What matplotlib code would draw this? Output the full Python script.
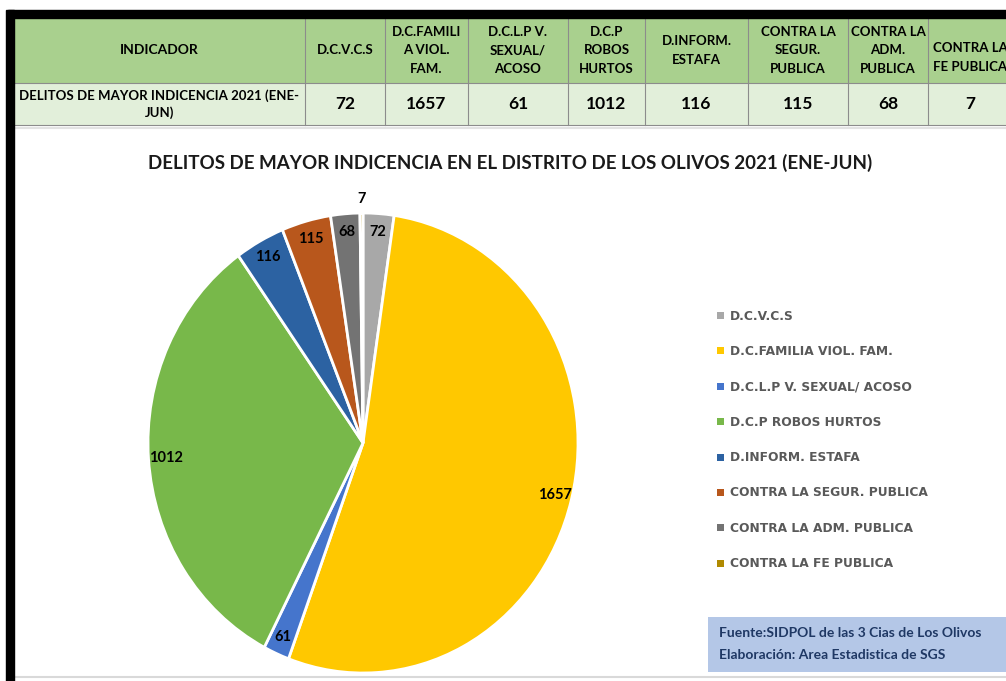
import matplotlib
matplotlib.use("Agg")
import matplotlib.pyplot as plt
from matplotlib.patches import Rectangle
import numpy as np

plt.rcParams['font.family'] = ['Lato', 'DejaVu Sans']

# data
categorias = ["D.C.V.C.S", "D.C.FAMILIA VIOL. FAM.", "D.C.L.P V. SEXUAL/ ACOSO",
              "D.C.P ROBOS HURTOS", "D.INFORM. ESTAFA", "CONTRA LA SEGUR. PUBLICA",
              "CONTRA LA ADM. PUBLICA", "CONTRA LA FE PUBLICA"]
valores = [72, 1657, 61, 1012, 116, 115, 68, 7]
encabezados = ["D.C.V.C.S", "D.C.FAMILI\nA VIOL.\nFAM.", "D.C.L.P V.\nSEXUAL/\nACOSO",
               "D.C.P\nROBOS\nHURTOS", "D.INFORM.\nESTAFA", "CONTRA LA\nSEGUR.\nPUBLICA",
               "CONTRA LA\nADM.\nPUBLICA", "CONTRA LA\nFE PUBLICA"]
fila_titulo = "DELITOS DE MAYOR INDICENCIA 2021 (ENE-\nJUN)"
colores = ["#A8A8A8", "#FFC800", "#4575CC", "#78B84A", "#2C62A2", "#B8571C", "#737373", "#B08A00"]
titulo = "DELITOS DE MAYOR INDICENCIA EN EL DISTRITO DE LOS OLIVOS 2021 (ENE-JUN)"

W, H = 1006, 681
fig = plt.figure(figsize=(W / 100, H / 100), dpi=100)
fig.patch.set_facecolor("white")

# overlay in pixel coordinates
bg = fig.add_axes([0, 0, 1, 1])
bg.set_xlim(0, W)
bg.set_ylim(H, 0)
bg.axis("off")

# black frame (screenshot border)
bg.add_patch(Rectangle((8, 10), W, 8, color="black", zorder=5))
bg.add_patch(Rectangle((6, 10), 8, H, color="black", zorder=5))
bg.plot([14, W], [677, 677], color="#D9D9D9", lw=1.5)
bg.plot([14, W], [128, 128], color="#E3E3E3", lw=1.5)

# table
bordes = [14, 305, 385, 468, 568, 645, 748, 848, 928, 1030]
y0, y1, y2 = 18, 83, 125
bg.add_patch(Rectangle((14, y0), W, y1 - y0, facecolor="#A9D08E", edgecolor="none"))
bg.add_patch(Rectangle((14, y1), W, y2 - y1, facecolor="#E2EFDA", edgecolor="none"))
for x in bordes[1:-1]:
    bg.plot([x, x], [y0, y2], color="#8C8C8C", lw=0.8)
for y in [y1, y2]:
    bg.plot([14, W], [y, y], color="#8C8C8C", lw=0.8)

bg.text((bordes[0] + bordes[1]) / 2, (y0 + y1) / 2, "INDICADOR", ha="center", va="center",
        fontsize=10, fontweight="bold")
bg.text((bordes[0] + bordes[1]) / 2, (y1 + y2) / 2, fila_titulo, ha="center", va="center",
        fontsize=9.5, fontweight="bold", linespacing=1.4)
for i, (enc, v) in enumerate(zip(encabezados, valores)):
    xc = (bordes[i + 1] + bordes[i + 2]) / 2
    if i == 7:
        bg.text(bordes[i + 1] + 5, (y0 + y1) / 2 + 7, enc, ha="left", va="center",
                fontsize=9.5, fontweight="bold", linespacing=1.65)
        bg.text(970, (y1 + y2) / 2, str(v), ha="center",
                va="center", fontsize=12.5, fontweight="bold")
        continue
    bg.text(xc, (y0 + y1) / 2, enc, ha="center", va="center",
            fontsize=9.5, fontweight="bold", linespacing=1.65)
    bg.text(xc, (y1 + y2) / 2, str(v), ha="center", va="center",
            fontsize=12.5, fontweight="bold")

# title
bg.text(510, 163, titulo, ha="center", va="center", fontsize=13.5, fontweight="bold",
        color="#1A1A1A")

# pie (slightly taller than wide, as in the screenshot)
cx, cy, rx, ry = 363, 443, 215, 230
ax = fig.add_axes([(cx - rx) / W, (H - cy - ry) / H, 2 * rx / W, 2 * ry / H])
wedges, _ = ax.pie(valores, colors=colores, startangle=90, counterclock=False,
                   wedgeprops=dict(edgecolor="white", linewidth=2))
ax.set_xlim(-1, 1)
ax.set_ylim(-1, 1)
ax.set_aspect("auto")

total = sum(valores)
ang = 90.0
for i, v in enumerate(valores):
    frac = v / total * 360
    mid = np.deg2rad(ang - frac / 2)
    ang -= frac
    dist = 0.92
    if v < 10:
        dist = 1.06
    ax.text(dist * np.cos(mid), dist * np.sin(mid), str(v), ha="center", va="center",
            fontsize=10.5, fontweight="bold", color="black")

# legend
ly = 316
for i, c in enumerate(categorias):
    y = ly + i * 35.4
    bg.add_patch(Rectangle((717, y - 4), 7, 7, facecolor=colores[i], edgecolor="none"))
    bg.text(730, y, c, ha="left", va="center", fontsize=8.8, fontweight="bold",
            color="#595959", family=['DejaVu Sans'])

# source box
bg.add_patch(Rectangle((708, 617), 320, 55, facecolor="#B4C7E7", edgecolor="none"))
bg.text(719, 633, "Fuente:SIDPOL de las 3 Cias de Los Olivos", ha="left", va="center",
        fontsize=10, fontweight="bold", color="#1F3864")
bg.text(719, 655, "Elaboración: Area Estadistica de SGS", ha="left", va="center",
        fontsize=10, fontweight="bold", color="#1F3864")

fig.savefig("out.png", dpi=100)
